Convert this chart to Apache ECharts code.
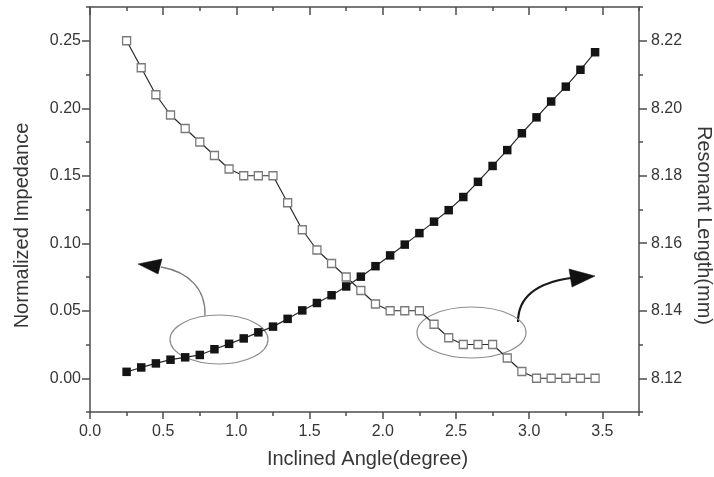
<!DOCTYPE html>
<html>
<head>
<meta charset="utf-8">
<script src="https://cdn.jsdelivr.net/npm/echarts@6/dist/echarts.min.js"></script>
<style>
html, body { margin: 0; padding: 0; background: #fff; }
#chart { width: 714px; height: 477px; }
</style>
</head>
<body>
<div id="chart"></div>
<script>
// inclined angle (degree)
const angles = [0.25, 0.35, 0.45, 0.55, 0.65, 0.75, 0.85, 0.95, 1.05, 1.15, 1.25,
	1.35, 1.45, 1.55, 1.65, 1.75, 1.85, 1.95, 2.05, 2.15, 2.25, 2.35,
	2.45, 2.55, 2.65, 2.75, 2.85, 2.95, 3.05, 3.15, 3.25, 3.35, 3.45]
// normalized impedance (left axis, hollow squares)
const impedance = [0.25, 0.23, 0.21, 0.195, 0.185, 0.175, 0.165, 0.155, 0.15, 0.15, 0.15,
	0.13, 0.11, 0.095, 0.085, 0.075, 0.065, 0.055, 0.05, 0.05, 0.05, 0.04,
	0.03, 0.025, 0.025, 0.025, 0.015, 0.005, 0, 0, 0, 0, 0]
// resonant length in mm (right axis, filled squares)
const resonantLength = [8.1219, 8.1232, 8.1244, 8.1255, 8.1262, 8.1269, 8.1286, 8.1302, 8.1318, 8.1336, 8.1353,
	8.1376, 8.1401, 8.1423, 8.1446, 8.1472, 8.1501, 8.1532, 8.1564, 8.1596, 8.163, 8.1664,
	8.1698, 8.1737, 8.1782, 8.1829, 8.1876, 8.1926, 8.1973, 8.202, 8.2064, 8.2114, 8.2166]

// tick positions
const xMajorTicks = [0, 0.5, 1, 1.5, 2, 2.5, 3, 3.5]
const xMinorTicks = [0.25, 0.75, 1.25, 1.75, 2.25, 2.75, 3.25, 3.75]
const leftMajorTicks = [0, 0.05, 0.1, 0.15, 0.2, 0.25]
const leftMinorTicks = [-0.025, 0.025, 0.075, 0.125, 0.175, 0.225, 0.275]
const rightMajorTicks = [8.12, 8.14, 8.16, 8.18, 8.2, 8.22]
const rightMinorTicks = [8.11, 8.13, 8.15, 8.17, 8.19, 8.21, 8.23]

const AXIS_COLOR = '#4e4e4e'
const TEXT_COLOR = '#363636'
const FONT = '"Liberation Sans", Arial, sans-serif'

const X_RANGE = { min: 0, max: 3.75 }
const LEFT_RANGE = { min: -0.025, max: 0.275 }
const RIGHT_RANGE = { min: 8.11, max: 8.23 }

const lineStyle = { color: AXIS_COLOR, width: 1.5 }
const labelStyle = { color: TEXT_COLOR, fontFamily: FONT, fontSize: 16 }
const nameStyle = { color: TEXT_COLOR, fontFamily: FONT, fontSize: 20 }

/** axis carrying only ticks (minor ticks or the mirrored box side) */
function tickOnlyAxis(position, range, ticks, len, inside, showLine) {
	return {
		type: 'value',
		position: position,
		min: range.min,
		max: range.max,
		axisLine: { show: showLine, onZero: false, lineStyle: lineStyle },
		axisTick: { show: true, inside: inside, length: len, customValues: ticks, lineStyle: lineStyle },
		axisLabel: { show: false },
		splitLine: { show: false },
	}
}

const myChart = echarts.init(document.getElementById('chart'))

const option = {
	animation: false,
	backgroundColor: '#fff',
	grid: {
		left: 90,
		right: 75,
		top: 7,
		bottom: 65,
		containLabel: false,
		outerBoundsMode: 'none',
	},
	xAxis: [
		{
			type: 'value',
			position: 'bottom',
			min: X_RANGE.min,
			max: X_RANGE.max,
			name: 'Inclined Angle(degree)',
			nameLocation: 'middle',
			nameGap: 37,
			nameTextStyle: Object.assign({ padding: [0, 0, 0, 6] }, nameStyle),
			axisLine: { show: true, onZero: false, lineStyle: lineStyle },
			axisTick: { show: true, length: 7, customValues: xMajorTicks, lineStyle: lineStyle },
			axisLabel: Object.assign({
				customValues: xMajorTicks,
				margin: 12,
				formatter: (v) => v.toFixed(1),
			}, labelStyle),
			splitLine: { show: false },
		},
		tickOnlyAxis('bottom', X_RANGE, xMinorTicks, 4, false, false),
		tickOnlyAxis('top', X_RANGE, xMajorTicks, 8, true, true),
		tickOnlyAxis('top', X_RANGE, xMinorTicks, 4, true, false),
	],
	yAxis: [
		{
			type: 'value',
			position: 'left',
			min: LEFT_RANGE.min,
			max: LEFT_RANGE.max,
			name: 'Normalized Impedance',
			nameLocation: 'middle',
			nameRotate: 90,
			nameGap: 58,
			nameTextStyle: Object.assign({ padding: [0, 32, 0, 0] }, nameStyle),
			axisLine: { show: true, onZero: false, lineStyle: lineStyle },
			axisTick: { show: true, length: 8, customValues: leftMajorTicks, lineStyle: lineStyle },
			axisLabel: Object.assign({
				customValues: leftMajorTicks,
				margin: 9,
				formatter: (v) => v.toFixed(2),
			}, labelStyle),
			splitLine: { show: false },
		},
		tickOnlyAxis('left', LEFT_RANGE, leftMinorTicks, 4, false, false),
		{
			type: 'value',
			position: 'right',
			min: RIGHT_RANGE.min,
			max: RIGHT_RANGE.max,
			name: 'Resonant Length(mm)',
			nameLocation: 'middle',
			nameRotate: -90,
			nameGap: 47,
			nameTextStyle: Object.assign({ padding: [0, 0, 0, 32] }, nameStyle),
			axisLine: { show: true, onZero: false, lineStyle: lineStyle },
			axisTick: { show: true, length: 8, customValues: rightMajorTicks, lineStyle: lineStyle },
			axisLabel: Object.assign({
				customValues: rightMajorTicks,
				margin: 12,
				formatter: (v) => v.toFixed(2),
			}, labelStyle),
			splitLine: { show: false },
		},
		tickOnlyAxis('right', RIGHT_RANGE, rightMinorTicks, 4, false, false),
	],
	series: [
		{
			name: 'Normalized Impedance',
			type: 'line',
			xAxisIndex: 0,
			yAxisIndex: 0,
			data: angles.map((a, i) => [a, impedance[i]]),
			symbol: 'rect',
			symbolSize: 8,
			showAllSymbol: true,
			itemStyle: { color: '#fff', borderColor: '#7a7a7a', borderWidth: 1.3 },
			lineStyle: { color: '#2a2a2a', width: 1.2 },
			z: 2,
		},
		{
			name: 'Resonant Length',
			type: 'line',
			xAxisIndex: 0,
			yAxisIndex: 2,
			data: angles.map((a, i) => [a, resonantLength[i]]),
			symbol: 'rect',
			symbolSize: 8.5,
			showAllSymbol: true,
			itemStyle: { color: '#141414' },
			lineStyle: { color: '#2a2a2a', width: 1.2 },
			z: 3,
		},
	],
	// ellipses and arrows pointing at the axis each curve belongs to
	graphic: [
		{
			type: 'ellipse',
			shape: { cx: 219, cy: 339.5, rx: 49, ry: 24.5 },
			style: { fill: null, stroke: '#8c8c8c', lineWidth: 1.2 },
			z: 1,
		},
		{
			type: 'bezierCurve',
			shape: { x1: 205, y1: 316, cpx1: 206, cpy1: 290, cpx2: 190, cpy2: 272, x2: 161, y2: 267 },
			style: { fill: null, stroke: '#7c7c7c', lineWidth: 1.3 },
		},
		{
			type: 'polygon',
			shape: { points: [[138, 264], [162, 259], [158, 274]] },
			style: { fill: '#111', stroke: '#111', lineWidth: 0.5 },
		},
		{
			type: 'ellipse',
			shape: { cx: 471.5, cy: 332.5, rx: 54.5, ry: 25.5 },
			style: { fill: null, stroke: '#8c8c8c', lineWidth: 1.2 },
			z: 1,
		},
		{
			type: 'bezierCurve',
			shape: { x1: 518, y1: 322, cpx1: 518, cpy1: 298, cpx2: 535, cpy2: 283, x2: 571, y2: 278 },
			style: { fill: null, stroke: '#1a1a1a', lineWidth: 2.2 },
		},
		{
			type: 'polygon',
			shape: { points: [[595, 276], [569, 269], [572, 287]] },
			style: { fill: '#111', stroke: '#111', lineWidth: 0.5 },
		},
	],
}

myChart.setOption(option)
</script>
</body>
</html>
